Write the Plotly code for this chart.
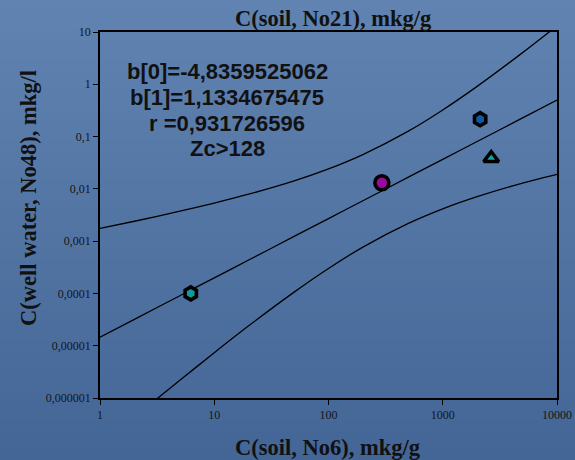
import math
import plotly.graph_objects as go

# Regression coefficients (log10 y = b0 + b1 * log10 x)
b0 = -4.8359525062
b1 = 1.1334675475
r_coef = 0.931726596

# Observed samples
sample_x = [6.23, 293, 2125, 2655]
sample_y = [0.0001, 0.0131, 0.215, 0.0385]
sample_symbol = ["hexagon", "circle", "hexagon", "triangle-up"]
sample_color = ["#129a9a", "#9a0a9a", "#0f5aa5", "#12a5a5"]
sample_size = [13, 14, 13, 13]

# Confidence band read along the x axis
band_x = [1, 2, 5, 10, 20, 50, 100, 200, 500, 1000, 2000, 5000, 10000]
band_upper = [1.75e-3, 2.4e-3, 3.74e-3, 5.35e-3, 7.9e-3, 0.0142, 0.0241, 0.0453,
              0.127, 0.323, 0.912, 4.03, 13.1]
band_lower = [1.2e-7, 4.3e-7, 2.18e-6, 7.35e-6, 2.4e-5, 1.06e-4, 3.0e-4, 7.7e-4,
              2.19e-3, 4.16e-3, 7.1e-3, 0.0129, 0.019]

# Axis ticks
x_ticks = [1, 10, 100, 1000, 10000]
x_ticktext = ["1", "10", "100", "1000", "10000"]
y_ticks = [1e-6, 1e-5, 1e-4, 1e-3, 1e-2, 1e-1, 1, 10]
y_ticktext = ["0,000001", "0,00001", "0,0001", "0,001", "0,01", "0,1", "1", "10"]

stats_lines = ["b[0]=-4,8359525062", "b[1]=1,1334675475", "r =0,931726596", "Zc>128"]

# Fitted regression line
line_y = [10 ** (b0 + b1 * math.log10(v)) for v in band_x]

fig = go.Figure()

for ys in (band_upper, line_y, band_lower):
    fig.add_trace(go.Scatter(
        x=band_x, y=ys, mode="lines",
        line=dict(color="black", width=1.3, shape="spline", smoothing=0.8),
        hoverinfo="skip", showlegend=False,
    ))

for xv, yv, sym, col, sz in zip(sample_x, sample_y, sample_symbol, sample_color, sample_size):
    fig.add_trace(go.Scatter(
        x=[xv], y=[yv], mode="markers",
        marker=dict(symbol=sym, size=sz, color=col,
                    line=dict(color="black", width=3.6)),
        showlegend=False, cliponaxis=False,
    ))

# Blue slide-style background gradient
W, H = 575, 460
ml, mr, mt, mb = 100, 18, 32, 62
pw, ph = W - ml - mr, H - mt - mb
top_rgb = (97, 131, 177)
bot_rgb = (68, 102, 150)
n_bands = 46
shapes = []
for i in range(n_bands):
    t = i / (n_bands - 1)
    c = tuple(round(a + (b - a) * t) for a, b in zip(top_rgb, bot_rgb))
    y_top_px = H * i / n_bands
    y_bot_px = H * (i + 1) / n_bands + 1
    shapes.append(dict(
        type="rect", xref="paper", yref="paper", layer="below",
        x0=-ml / pw, x1=(W - ml) / pw,
        y0=(H - mb - y_bot_px) / ph, y1=(H - mb - y_top_px) / ph,
        fillcolor="rgb(%d,%d,%d)" % c, line=dict(width=0),
    ))

annotations = []
stat_y = [0.893, 0.822, 0.751, 0.683]
for txt, yy in zip(stats_lines, stat_y):
    annotations.append(dict(
        text="<b>%s</b>" % txt, x=0.278, y=yy, xref="paper", yref="paper",
        showarrow=False, xanchor="center", yanchor="middle",
        font=dict(family="Liberation Sans, Arial", size=22, color="#111111"),
    ))

serif_bold = dict(family="Liberation Serif, Times New Roman", size=22.5, color="#111111")
annotations.append(dict(
    text="<b>C(soil, No21), mkg/g</b>", x=0.51, y=1.036, xref="paper", yref="paper",
    showarrow=False, xanchor="center", yanchor="middle", font=serif_bold))
annotations.append(dict(
    text="<b>C(soil, No6), mkg/g</b>", x=0.499, y=-0.134, xref="paper", yref="paper",
    showarrow=False, xanchor="center", yanchor="middle", font=serif_bold))
annotations.append(dict(
    text="<b>C(well water, No48), mkg/l</b>", x=-0.158, y=0.546, xref="paper", yref="paper",
    showarrow=False, xanchor="center", yanchor="middle", textangle=-90, font=serif_bold))

axis_common = dict(
    type="log", showgrid=False, zeroline=False, automargin=False,
    showline=True, linecolor="black", linewidth=1.5, mirror=True,
    ticks="outside", ticklen=5, tickwidth=1.2, tickcolor="black",
    tickfont=dict(family="Liberation Serif, Times New Roman", size=12, color="#151515"),
)

fig.update_layout(
    width=W, height=H,
    margin=dict(l=ml, r=mr, t=mt, b=mb, pad=0, autoexpand=False),
    paper_bgcolor="rgb(84,118,164)",
    plot_bgcolor="rgba(0,0,0,0)",
    xaxis=dict(axis_common, range=[0, 4], tickvals=x_ticks, ticktext=x_ticktext),
    yaxis=dict(axis_common, range=[-6, 1], tickvals=y_ticks, ticktext=y_ticktext),
    shapes=shapes,
    annotations=annotations,
    showlegend=False,
)

fig.write_html("out.html")
